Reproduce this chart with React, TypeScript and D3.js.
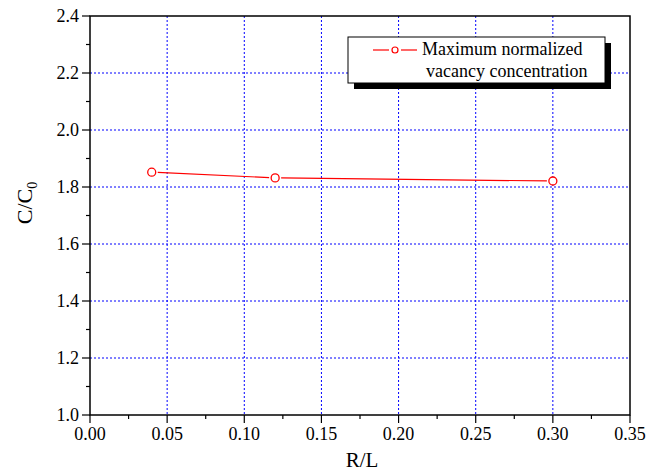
import React from "react";
import * as d3 from "d3";

const xValues = [0.04, 0.12, 0.3];
const yValues = [1.852, 1.832, 1.821];
const xTicks = [0, 0.05, 0.1, 0.15, 0.2, 0.25, 0.3, 0.35];
const yTicks = [1.0, 1.2, 1.4, 1.6, 1.8, 2.0, 2.2, 2.4];
const legendLines = ["Maximum normalized", "vacancy concentration"];

export default function App() {
  const W = 650, H = 476;
  const L = 90, R = 630, T = 16, B = 415;
  const x = d3.scaleLinear().domain([0, 0.35]).range([L, R]);
  const y = d3.scaleLinear().domain([1.0, 2.4]).range([B, T]);
  const font = "Liberation Serif, DejaVu Serif, serif";
  const xMinor = d3.range(0, 0.3501, 0.025);
  const yMinor = d3.range(1.0, 2.401, 0.1);
  const pts = xValues.map((v, i) => [x(v), y(yValues[i])] as [number, number]);
  const r = 4;
  const segs: string[] = [];
  for (let i = 0; i < pts.length - 1; i++) {
    const [x1, y1] = pts[i];
    const [x2, y2] = pts[i + 1];
    const dx = x2 - x1, dy = y2 - y1;
    const len = Math.hypot(dx, dy);
    const ux = dx / len, uy = dy / len;
    const g = r + 2;
    segs.push(d3.line()([[x1 + ux * g, y1 + uy * g], [x2 - ux * g, y2 - uy * g]]) as string);
  }
  const ts = { fontFamily: font };
  return (
    <svg width={W} height={H} style={{ position: "absolute", left: 0, top: 0 }}>
      <rect width={W} height={H} fill="white" />
      {xTicks.slice(1, -1).map((t) => (
        <line key={"gx" + t} x1={x(t)} x2={x(t)} y1={T} y2={B} stroke="#0000ff" strokeWidth={1} strokeDasharray="2,2" />
      ))}
      {yTicks.slice(1, -1).map((t) => (
        <line key={"gy" + t} x1={L} x2={R} y1={y(t)} y2={y(t)} stroke="#0000ff" strokeWidth={1} strokeDasharray="2,2" />
      ))}
      <rect x={L} y={T} width={R - L} height={B - T} fill="none" stroke="black" strokeWidth={1.5} />
      {xMinor.map((t, i) => (
        <line key={"xt" + i} x1={x(t)} x2={x(t)} y1={B} y2={B + (i % 2 === 0 ? 8 : 4)} stroke="black" strokeWidth={1.2} />
      ))}
      {yMinor.map((t, i) => (
        <line key={"yt" + i} x1={L} x2={L - (i % 2 === 0 ? 8 : 4)} y1={y(t)} y2={y(t)} stroke="black" strokeWidth={1.2} />
      ))}
      {xTicks.map((t) => (
        <text key={"xl" + t} x={x(t)} y={B + 25} textAnchor="middle" style={ts} fontSize={18} fill="black">
          {d3.format(".2f")(t)}
        </text>
      ))}
      {yTicks.map((t) => (
        <text key={"yl" + t} x={L - 11} y={y(t) + 6} textAnchor="end" style={ts} fontSize={18} fill="black">
          {d3.format(".1f")(t)}
        </text>
      ))}
      <text x={362} y={467} textAnchor="middle" style={ts} fontSize={21} fill="black">R/L</text>
      <text transform={`translate(32,203) rotate(-90)`} textAnchor="middle" style={ts} fontSize={22} fill="black">
        C/C<tspan fontSize={14} dy={5}>0</tspan>
      </text>
      {segs.map((d, i) => (
        <path key={"s" + i} d={d} stroke="red" strokeWidth={1.2} fill="none" />
      ))}
      {pts.map(([px, py], i) => (
        <circle key={"p" + i} cx={px} cy={py} r={r} fill="white" stroke="red" strokeWidth={1.3} />
      ))}
      <rect x={354} y={43} width={257} height={46} fill="black" />
      <rect x={348} y={37} width={257} height={46} fill="white" stroke="black" strokeWidth={1} />
      <line x1={373} x2={389} y1={50} y2={50} stroke="red" strokeWidth={1.2} />
      <line x1={401} x2={417} y1={50} y2={50} stroke="red" strokeWidth={1.2} />
      <circle cx={395} cy={50} r={3} fill="white" stroke="red" strokeWidth={1.2} />
      <text x={422} y={55} style={ts} fontSize={18} fill="black">{legendLines[0]}</text>
      <text x={426} y={77} style={ts} fontSize={18} fill="black">{legendLines[1]}</text>
    </svg>
  );
}
